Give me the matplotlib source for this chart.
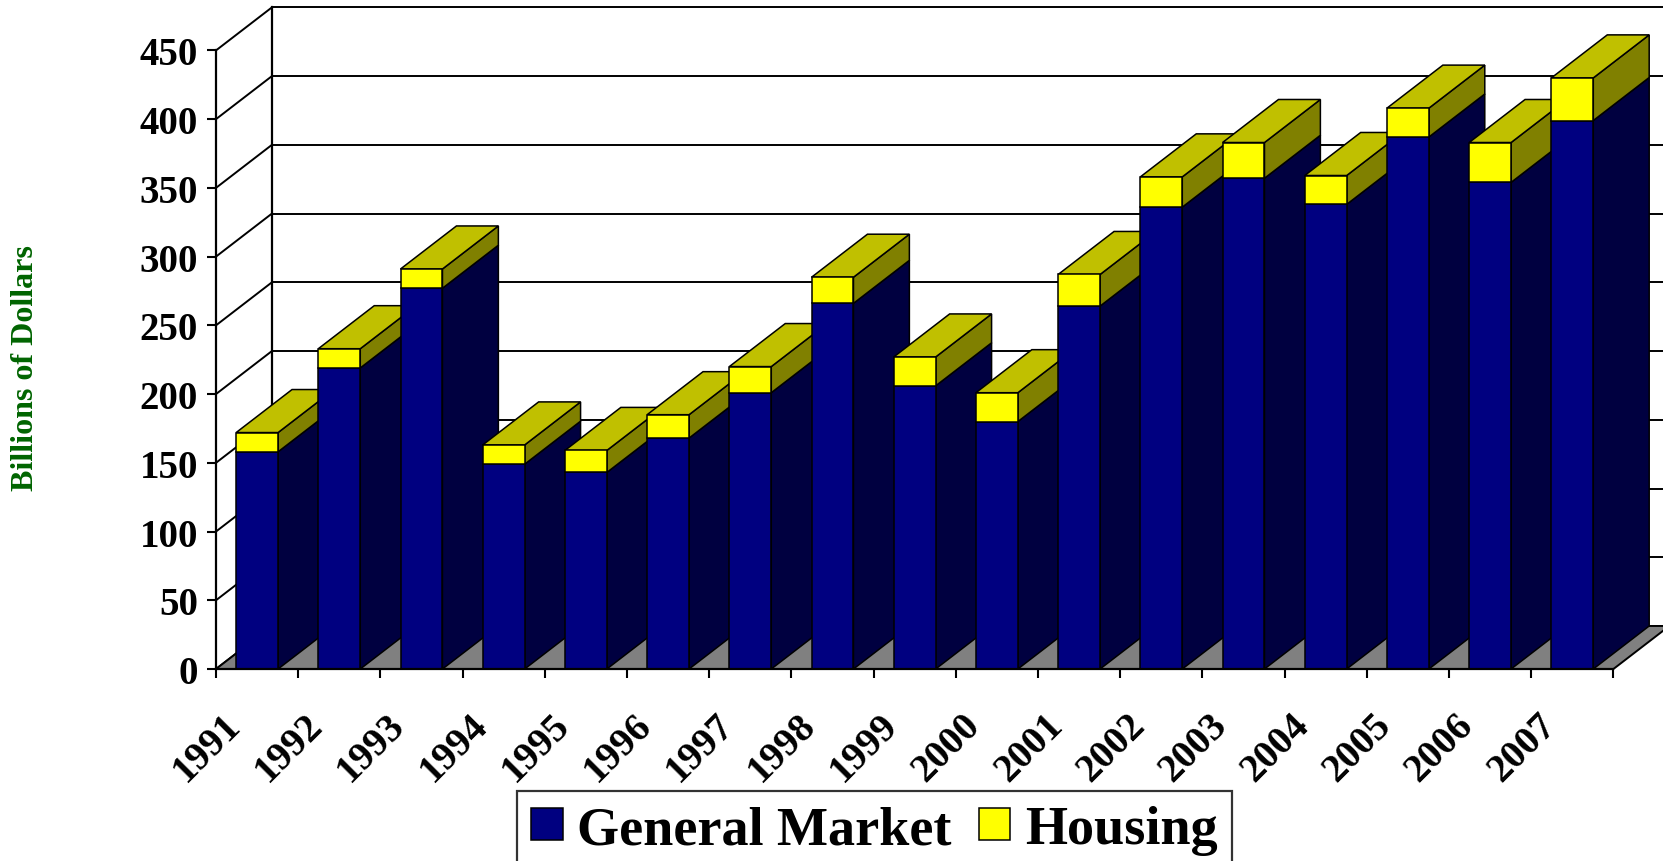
import matplotlib
matplotlib.use("Agg")
import matplotlib.pyplot as plt
import numpy as np
from matplotlib.patches import Polygon

years = ["1991", "1992", "1993", "1994", "1995", "1996", "1997", "1998", "1999",
         "2000", "2001", "2002", "2003", "2004", "2005", "2006", "2007"]
general_market = [158, 219, 277, 149, 143, 168, 201, 266, 206,
                  180, 264, 336, 357, 338, 387, 354, 399]
housing = [14, 14, 14, 14, 16, 17, 19, 19, 21,
           21, 23, 22, 26, 21, 21, 29, 31]
yticks = list(range(0, 451, 50))

navy = "#000080"
navy_side = "#000040"
yellow = "#FFFF00"
yellow_top = "#C0C000"
yellow_side = "#808000"
floor_col = "#808080"
font = "Liberation Serif"

# fake 3d depth, in data units
dx = 0.68
dy = 31.3
width = 0.51
n = len(years)
ymax = 450

fig = plt.figure(figsize=(16.63, 8.62), dpi=100)
ax = fig.add_axes([216 / 1663, 192 / 862, 1 - 216 / 1663, 670 / 862])
ax.set_xlim(0, 17.603)
ax.set_ylim(0, 487.4)

# floor
floor = Polygon([(0, 0), (n, 0), (n + dx, dy), (dx, dy)], closed=True,
                facecolor=floor_col, edgecolor="black", lw=1.4, zorder=1,
                clip_on=False)
ax.add_patch(floor)

# walls: left side diagonals and back gridlines
for v in yticks:
    ax.plot([0, dx], [v, v + dy], color="black", lw=1.4, zorder=0.5)
    ax.plot([dx, 17.603], [v + dy, v + dy], color="black", lw=1.4, zorder=0.5)
ax.plot([dx, dx], [dy, ymax + dy], color="black", lw=1.6, zorder=0.5)

x = np.arange(n) + 0.5
gm = np.array(general_market)
hs = np.array(housing)
top = gm + hs

# side and top faces, left to right
for i in range(n):
    l = x[i] - width / 2
    r = x[i] + width / 2
    z = 3 + i * 0.01
    ax.add_patch(Polygon([(r, 0), (r + dx, dy), (r + dx, gm[i] + dy), (r, gm[i])],
                         facecolor=navy_side, edgecolor="black", lw=1.1, zorder=z))
    ax.add_patch(Polygon([(r, gm[i]), (r + dx, gm[i] + dy), (r + dx, top[i] + dy), (r, top[i])],
                         facecolor=yellow_side, edgecolor="black", lw=1.1, zorder=z))
    ax.add_patch(Polygon([(l, top[i]), (r, top[i]), (r + dx, top[i] + dy), (l + dx, top[i] + dy)],
                         facecolor=yellow_top, edgecolor="black", lw=1.1, zorder=z))

b1 = ax.bar(x, gm, width, color=navy, edgecolor="black", lw=1.1, zorder=5,
            label="General Market")
b2 = ax.bar(x, hs, width, bottom=gm, color=yellow, edgecolor="black", lw=1.1,
            zorder=5, label="Housing")

# axes
for s in ["top", "right"]:
    ax.spines[s].set_visible(False)
ax.spines["left"].set_bounds(0, ymax)
ax.spines["bottom"].set_bounds(0, n)
ax.spines["left"].set_linewidth(1.6)
ax.spines["bottom"].set_linewidth(1.6)
ax.spines["left"].set_zorder(6)
ax.spines["bottom"].set_zorder(6)
ax.set_yticks(yticks)
ax.set_yticklabels([str(v) for v in yticks], fontsize=28, fontweight="bold",
                   family=font)
ax.set_xticks(np.arange(n + 1))
ax.set_xticklabels([])
ax.tick_params(axis="both", direction="out", length=6.8, width=1.5, pad=6)

for xi, yr in zip(x, years):
    ax.annotate(yr, xy=(xi, 0), xytext=(-22, -50), textcoords="offset pixels",
                ha="right", va="center", rotation=45, rotation_mode="anchor",
                fontsize=28.5, fontweight="bold", family=font, annotation_clip=False)

fig.text(26 / 1663, 1 - 368 / 862, "Billions of Dollars", rotation=90,
         ha="center", va="center", fontsize=23, fontweight="bold",
         family=font, color="#006400")

leg = fig.legend(handles=[b1, b2], loc="upper center",
                 bbox_to_anchor=(874.5 / 1663, 1 - 791.7 / 862), ncol=2,
                 frameon=True, fancybox=False, edgecolor="black",
                 prop={"family": font, "weight": "bold", "size": 39},
                 handlelength=0.58, handleheight=0.52, handletextpad=0.27,
                 columnspacing=0.5, borderpad=0.27, borderaxespad=0)
leg.get_frame().set_linewidth(1.6)

plt.savefig("out.png", dpi=100)
